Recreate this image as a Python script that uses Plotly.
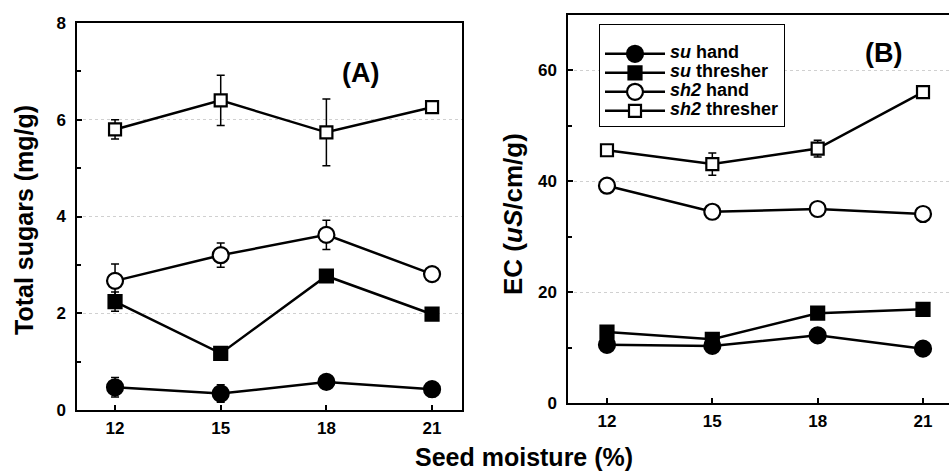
import plotly.graph_objects as go

moisture = [12, 15, 18, 21]
series_names = ["<i>su</i> hand", "<i>su</i> thresher", "<i>sh2</i> hand", "<i>sh2</i> thresher"]

# Panel A: Total sugars (mg/g)
sug_su_hand = [0.47, 0.34, 0.58, 0.43]
sug_su_hand_err = [0.2, 0.18, 0.06, 0.15]
sug_su_thr = [2.24, 1.17, 2.77, 1.98]
sug_su_thr_err = [0.2, 0.05, 0.08, 0.05]
sug_sh2_hand = [2.67, 3.2, 3.62, 2.81]
sug_sh2_hand_err = [0.35, 0.25, 0.3, 0.05]
sug_sh2_thr = [5.8, 6.4, 5.74, 6.26]
sug_sh2_thr_err = [0.2, 0.52, 0.69, 0.12]

# Panel B: EC (uS/cm/g)
ec_su_hand = [10.5, 10.3, 12.2, 9.8]
ec_su_thr = [12.8, 11.5, 16.2, 16.9]
ec_sh2_hand = [39.2, 34.5, 35.0, 34.1]
ec_sh2_thr = [45.6, 43.1, 45.9, 56.1]
ec_sh2_thr_err = [0.8, 2.0, 1.5, 0.5]

W, H = 949, 471
FONT = "Liberation Sans, Arial, sans-serif"

styles = [
    dict(symbol="circle", size=16, color="black"),
    dict(symbol="square", size=13, color="black"),
    dict(symbol="circle", size=16, color="white"),
    dict(symbol="square", size=12, color="white"),
]

fig = go.Figure()

def add(x, y, err, idx, xa, ya, show):
    st = styles[idx]
    fig.add_trace(go.Scatter(
        x=x, y=y, mode="lines+markers",
        name='<span style="font-size:18px">' + series_names[idx] + "</span>",
        xaxis=xa, yaxis=ya, showlegend=show,
        line=dict(color="black", width=2.5),
        marker=dict(symbol=st["symbol"], size=st["size"], color=st["color"],
                    line=dict(color="black", width=2.2)),
        error_y=dict(type="data", array=err, visible=err is not None,
                     color="black", thickness=1.5, width=4),
    ))

add(moisture, sug_su_hand, sug_su_hand_err, 0, "x", "y", False)
add(moisture, sug_su_thr, sug_su_thr_err, 1, "x", "y", False)
add(moisture, sug_sh2_hand, sug_sh2_hand_err, 2, "x", "y", False)
add(moisture, sug_sh2_thr, sug_sh2_thr_err, 3, "x", "y", False)

add(moisture, ec_su_hand, None, 0, "x2", "y2", True)
add(moisture, ec_su_thr, None, 1, "x2", "y2", True)
add(moisture, ec_sh2_hand, None, 2, "x2", "y2", True)
add(moisture, ec_sh2_thr, ec_sh2_thr_err, 3, "x2", "y2", True)

tickfont = dict(family=FONT, size=17, color="black", weight="bold")
axcommon = dict(showline=True, linecolor="black", linewidth=1.5, ticks="inside",
                ticklen=5, tickwidth=2, tickcolor="black", tickfont=tickfont,
                zeroline=False, automargin=False)

def ann(text, x, y, size, angle=0):
    return dict(text=text, x=x / W, y=1 - y / H, xref="paper", yref="paper",
                xanchor="center", yanchor="middle", showarrow=False, textangle=angle,
                font=dict(family=FONT, size=size, color="black", weight="bold"))

fig.update_layout(
    template="none",
    width=W, height=H,
    margin=dict(l=0, r=0, t=0, b=0, pad=0),
    paper_bgcolor="white", plot_bgcolor="white",
    showlegend=True,
    legend=dict(x=599 / W, y=1 - 24 / H, xanchor="left", yanchor="top",
                bgcolor="white", bordercolor="black", borderwidth=1,
                font=dict(family=FONT, size=10.5, color="black", weight="bold"),
                title=dict(text=" ", font=dict(size=11)),
                tracegroupgap=0, itemsizing="trace", itemwidth=60),
    xaxis=dict(domain=[77 / W, 462 / W], range=[10.92, 21.85], anchor="y",
               tickvals=moisture, mirror=True, showgrid=False,
               ticklabelstandoff=2, **axcommon),
    yaxis=dict(domain=[1 - 410 / H, 1 - 23 / H], range=[0, 8], anchor="x",
               dtick=2, mirror=True, showgrid=True, gridcolor="#d0d0d0",
               griddash="dot", gridwidth=1, ticklabelstandoff=6,
               minor=dict(dtick=1, ticks="inside", ticklen=4, tickcolor="black",
                          tickwidth=1.5, showgrid=False),
               **axcommon),
    xaxis2=dict(domain=[568 / W, 1.0], range=[10.89, 21.74], anchor="y2",
                tickvals=moisture, mirror=True, showgrid=False,
                ticklabelstandoff=2, **axcommon),
    yaxis2=dict(domain=[1 - 403 / H, 1 - 15 / H], range=[0, 70], anchor="x2",
                dtick=20, mirror=False, showgrid=True, gridcolor="#d0d0d0",
                griddash="dot", gridwidth=1, ticklabelstandoff=6,
                minor=dict(dtick=10, ticks="inside", ticklen=4, tickcolor="black",
                           tickwidth=1.5, showgrid=False),
                **axcommon),
    annotations=[
        ann("(A)", 360, 73, 27),
        ann("(B)", 883, 53, 27),
        ann("Total sugars (mg/g)", 24, 220, 25, -90),
        ann("EC (<i>uS</i>/cm/g)", 513, 214, 26, -90),
        ann("Seed moisture (%)", 524, 457, 25),
    ],
)

fig.write_html("out.html", config={"displayModeBar": False},
               post_script="document.body.style.margin='0';document.body.style.overflow='hidden';")
